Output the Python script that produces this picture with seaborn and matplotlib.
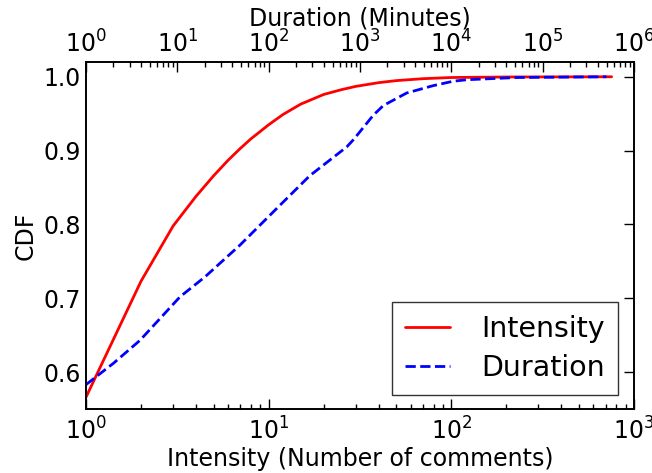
import matplotlib
matplotlib.use("Agg")
import matplotlib.pyplot as plt
import seaborn as sns
import pandas as pd

# Intensity (bottom axis, number of comments)
intensity_x = [1, 2, 3, 4, 5, 6, 7, 8, 9, 10, 12, 15, 20, 25, 30, 40, 50, 70, 100, 200, 754]
intensity_cdf = [0.566, 0.723, 0.798, 0.838, 0.866, 0.887, 0.903, 0.916, 0.926, 0.935,
                 0.949, 0.963, 0.976, 0.9825, 0.987, 0.992, 0.9948, 0.9974, 0.999, 0.9997, 1.0]

# Duration (top axis, minutes)
duration_x = [1, 2, 3.9, 10.7, 20.1, 48.5, 133, 282, 716, 851, 1400, 1800, 3240,
              6350, 10500, 14800, 52500, 500000]
duration_cdf = [0.583, 0.612, 0.643, 0.702, 0.729, 0.772, 0.826, 0.866, 0.905, 0.915,
                0.948, 0.961, 0.978, 0.988, 0.994, 0.996, 0.999, 1.0]

sns.set_style("white")
plt.rcParams['font.family'] = ['DejaVu Sans']
plt.rcParams['text.color'] = 'black'
plt.rcParams['axes.labelcolor'] = 'black'
plt.rcParams['xtick.color'] = 'black'
plt.rcParams['ytick.color'] = 'black'
plt.rcParams['xtick.direction'] = 'in'
plt.rcParams['ytick.direction'] = 'in'

fig = plt.figure(figsize=(6.52, 4.73), dpi=100)
ax = fig.add_axes([86/652, 1-409/473, (634-86)/652, (409-62)/473])

df_i = pd.DataFrame({"x": intensity_x, "cdf": intensity_cdf})
df_d = pd.DataFrame({"x": duration_x, "cdf": duration_cdf})

sns.lineplot(data=df_i, x="x", y="cdf", ax=ax, color="red", linewidth=2, label="Intensity", legend=False)
ax.set_xscale("log")
ax.set_xlim(1, 1000)
ax.set_ylim(0.55, 1.02)
ax.set_yticks([0.6, 0.7, 0.8, 0.9, 1.0])
ax.set_yticklabels(["0.6", "0.7", "0.8", "0.9", "1.0"])
ax.set_xlabel("Intensity (Number of comments)", fontsize=17, labelpad=2)
ax.set_ylabel("CDF", fontsize=17)
ax.tick_params(axis='both', which='major', labelsize=17, length=7, width=1, direction='in', right=True, top=False)
ax.tick_params(axis='x', which='minor', length=3.5, width=1, direction='in', top=False, bottom=True)
ax.tick_params(axis='x', which='major', pad=6)

ax2 = ax.twiny()
sns.lineplot(data=df_d, x="x", y="cdf", ax=ax2, color="blue", linewidth=2, linestyle="--", label="Duration", legend=False)
ax2.set_xscale("log")
ax2.set_xlim(1, 1e6)
ax2.set_ylim(0.55, 1.02)
ax2.set_xlabel("Duration (Minutes)", fontsize=17, labelpad=4)
ax2.tick_params(axis='x', which='major', labelsize=17, length=7, width=1, direction='in', pad=3)
ax2.tick_params(axis='x', which='minor', length=3.5, width=1, direction='in')

for a in (ax, ax2):
    for s in a.spines.values():
        s.set_color('black')
        s.set_linewidth(1.2)

h1, l1 = ax.get_legend_handles_labels()
h2, l2 = ax2.get_legend_handles_labels()
leg = ax2.legend(h1 + h2, l1 + l2, loc="lower right", bbox_to_anchor=(0.9708, 0.0403),
                 fontsize=20.5, frameon=True, fancybox=False, borderaxespad=0,
                 handlelength=1.6, handletextpad=1.1, borderpad=0.45, labelspacing=0.4)
leg.get_frame().set_edgecolor('black')
leg.get_frame().set_linewidth(1.0)

fig.savefig("out.png", dpi=100)
